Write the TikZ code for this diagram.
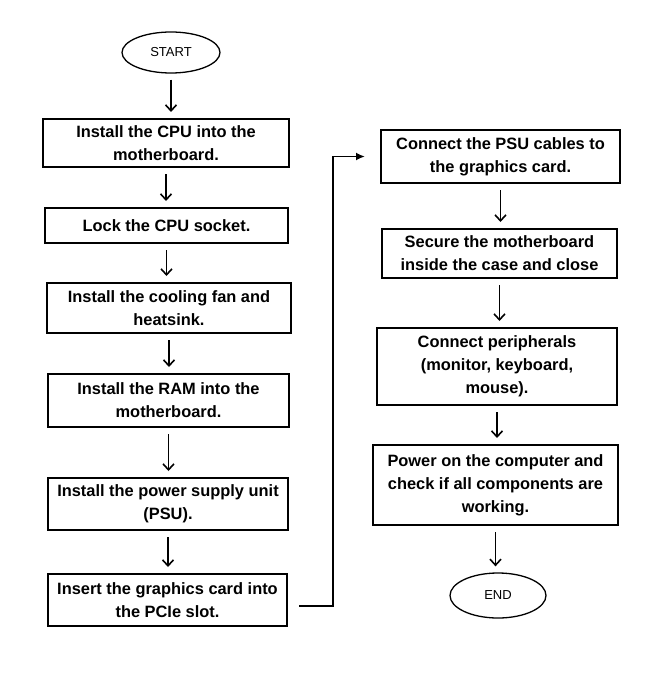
\documentclass[tikz,border=0pt]{standalone}
\usepackage{fontspec}
\setmainfont{Liberation Sans}
\usepackage{tikz}
\usetikzlibrary{
    shapes.geometric,
    arrows.meta,
    positioning
}
\tikzset{
    % Base style for all nodes
    build base/.style={
        font=\fontsize{16.4}{23}\selectfont\bfseries,
        align=center,
        text=black,
        inner sep=0pt,
    },
    % Start/End nodes - plain ellipse
    terminal/.style={
        build base,
        ellipse,
        draw=black,
        line width=1.3pt,
        font=\fontsize{13}{15}\selectfont,
    },
    % Step boxes - plain rectangle
    stepbox/.style={
        build base,
        rectangle,
        draw=black,
        line width=2pt,
    },
    % Down arrow between steps
    arrow/.style={
        -{Straight Barb[length=6pt, width=11pt]},
        line width=1.6pt,
        draw=black,
        shorten >=6pt,
        shorten <=6pt,
    },
    % Arrow jumping to the second column
    jump arrow/.style={
        -{Latex[length=9pt, width=8pt]},
        line width=1.8pt,
        draw=black,
        shorten <=11pt,
        shorten >=15pt,
    },
}

\begin{document}
\begin{tikzpicture}[x=1pt, y=-1pt]
    \useasboundingbox (0,0) rectangle (666,674);

    % left column
    \node (start) [terminal, minimum width=98, minimum height=41] at (171,52.5) {START};
    \node (cpu) [stepbox, minimum width=246, minimum height=48] at (166,143) {Install the CPU into the\\motherboard.};
    \node (lock) [stepbox, minimum width=243, minimum height=35] at (166.5,225.5) {Lock the CPU socket.};
    \node (fan) [stepbox, minimum width=244, minimum height=50] at (169,308) {Install the cooling fan and\\heatsink.};
    \node (ram) [stepbox, minimum width=241, minimum height=53] at (168.5,400.5) {Install the RAM into the\\motherboard.};
    \node (psu) [stepbox, minimum width=240, minimum height=52] at (168,504) {Install the power supply unit\\(PSU).};
    \node (gpu) [stepbox, minimum width=239, minimum height=52] at (167.5,600) {Insert the graphics card into\\the PCIe slot.};

    % right column
    \node (cables) [stepbox, minimum width=239, minimum height=53] at (500.5,156.5) {Connect the PSU cables to\\the graphics card.};
    \node (case) [stepbox, minimum width=235, minimum height=49] at (499.5,253.5) {Secure the motherboard\\inside the case and close};
    \node (periph) [stepbox, minimum width=240, minimum height=77] at (497,366.5) {Connect peripherals\\(monitor, keyboard,\\mouse).};
    \node (power) [stepbox, minimum width=245, minimum height=80] at (495.5,485) {Power on the computer and\\check if all components are\\working.};
    \node (end) [terminal, minimum width=96, minimum height=45] at (498,595.5) {END};

    \coordinate (turn) at (333,606);

    \draw [arrow] (start.south) -- (start.south |- cpu.north);
    \draw [arrow] (cpu.south) -- (cpu.south |- lock.north);
    \draw [arrow] (lock.south) -- (lock.south |- fan.north);
    \draw [arrow] (fan.south) -- (fan.south |- ram.north);
    \draw [arrow] (ram.south) -- (ram.south |- psu.north);
    \draw [arrow] (psu.south) -- (psu.south |- gpu.north);
    \draw [jump arrow] (gpu.east |- turn) -- (turn) |- (cables.west);
    \draw [arrow] (cables.south) -- (cables.south |- case.north);
    \draw [arrow] (case.south) -- (case.south |- periph.north);
    \draw [arrow] (periph.south) -- (periph.south |- power.north);
    \draw [arrow] (power.south) -- (power.south |- end.north);
\end{tikzpicture}
\end{document}
